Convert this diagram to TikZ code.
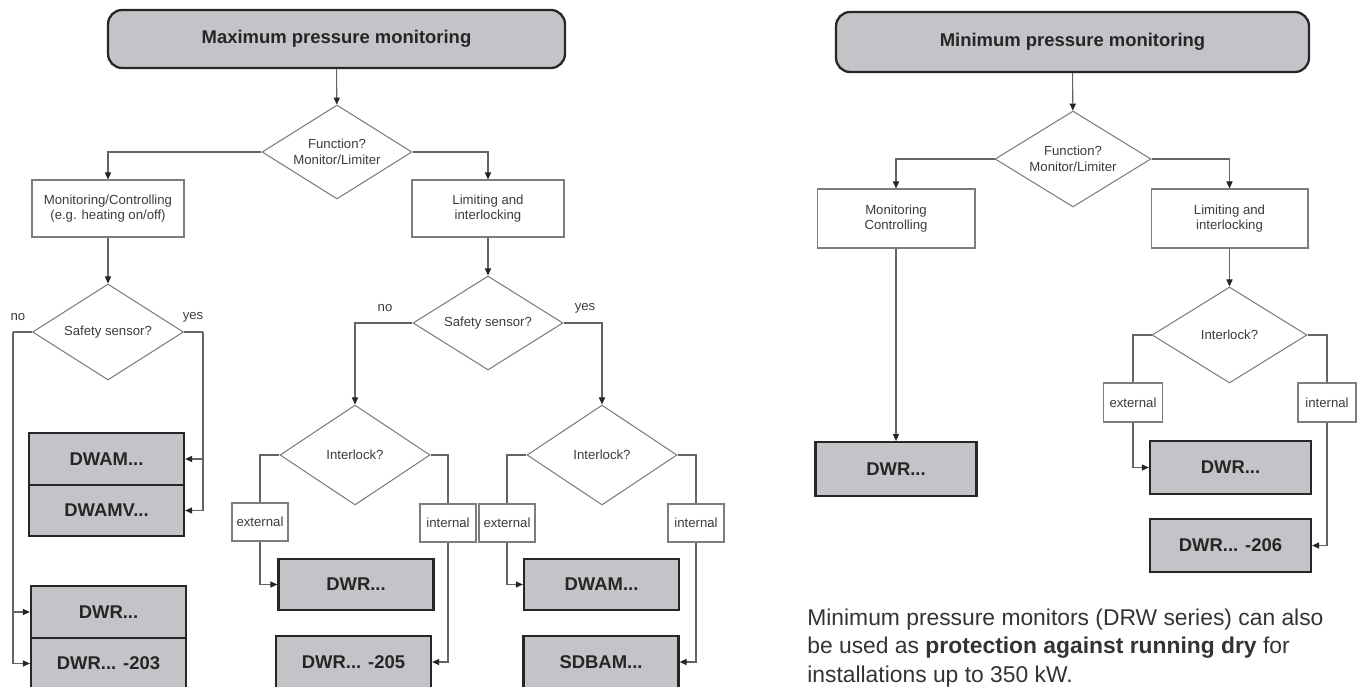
\documentclass[tikz,border=0pt]{standalone}
\usepackage{fontspec}
\setmainfont{Liberation Sans}
\usetikzlibrary{shapes.geometric,arrows.meta}

\definecolor{boxgray}{RGB}{195,196,200}
\definecolor{linegray}{RGB}{100,100,100}
\definecolor{framegray}{RGB}{125,125,125}
\definecolor{textgray}{RGB}{60,60,60}

\begin{document}
\begin{tikzpicture}
		% one unit is one pixel of the layout
		[x=0.02cm, y=-0.02cm,
		title/.style={draw=black!85, line width=1.3pt, fill=boxgray, rounded corners=8pt, font=\fontsize{10.5}{12}\selectfont\bfseries, text=black!85},
		product/.style={draw=black!85, line width=1.3pt, fill=boxgray, font=\fontsize{10.5}{12}\selectfont\bfseries, text=black!85, minimum width=3.1cm, minimum height=1.03cm},
		question/.style={diamond, aspect=1.6, inner sep=0pt, draw=framegray, line width=0.6pt, font=\fontsize{7.5}{9}\selectfont, text=textgray, align=center, minimum width=3cm, minimum height=1.9cm},
		choice/.style={draw=framegray, line width=0.6pt, font=\fontsize{7.5}{9}\selectfont, text=textgray, align=center, minimum width=3.04cm, minimum height=1.14cm},
		tag/.style={draw=framegray, line width=0.6pt, fill=white, font=\fontsize{7.5}{9}\selectfont, text=textgray, minimum width=1.12cm, minimum height=0.76cm, inner sep=1pt},
		answer/.style={font=\fontsize{7.5}{9}\selectfont, text=textgray},
		link/.style={draw=linegray, line width=0.6pt},
		flow/.style={link, -{Triangle[length=4pt, width=3.5pt, color=black!85]}}]
	
		\useasboundingbox (0,0) rectangle (1358,686);
		\clip (0,0) rectangle (1358,686);
	
		% First the maximum pressure chart
		\begin{scope}
			\node[title, minimum width=9.14cm, minimum height=1.16cm] (maxtitle) at (336.5,39) {Maximum pressure monitoring};
			\node[question, minimum height=1.88cm] (maxfunc) at (337,152) {Function?\\Monitor/Limiter};
			\node[choice] (maxmon) at (108,208.5) {Monitoring/Controlling\\(e.g. heating on/off)};
			\node[choice] (maxlim) at (488,208.5) {Limiting and\\interlocking};
			\node[question, minimum width=3.02cm, minimum height=1.92cm] (maxsafeA) at (108,332) {Safety sensor?};
			\node[question, minimum height=1.88cm] (maxsafeB) at (488,323) {Safety sensor?};
			\node[question, minimum height=2cm] (maxilkA) at (355,455) {Interlock?};
			\node[question, minimum height=2cm] (maxilkB) at (602,455) {Interlock?};
			
			\node[product] (dwamA) at (106.5,459) {DWAM...};
			\node[product] (dwamvA) at (106.5,510.5) {DWAMV...};
			\node[product] (dwrA) at (108.5,612) {DWR...};
			\node[product] (dwrcA) at (108.5,663.5) {DWR... -203};
			\node[product] (dwrB) at (356,584.5) {DWR...};
			\node[product] (dwrcB) at (353.5,662) {DWR... -205};
			\node[product] (dwamB) at (601.5,584.5) {DWAM...};
			\node[product] (sdbamB) at (601,662) {SDBAM...};
			
			\node[tag] (extA) at (260,522) {external};
			\node[tag] (intA) at (448,523) {internal};
			\node[tag] (extB) at (507,523) {external};
			\node[tag] (intB) at (696,523) {internal};
			
			\node[answer] (noA) at (18,317) {no};
			\node[answer] (yesA) at (193,317) {yes};
			\node[answer] (noB) at (385,308) {no};
			\node[answer] (yesB) at (585,308) {yes};
			
			\draw[flow] (maxtitle) -- (maxfunc);
			\draw[flow] (maxfunc.west) -| (maxmon.north);
			\draw[flow] (maxfunc.east) -| (maxlim.north);
			\draw[flow] (maxmon) -- (maxsafeA);
			\draw[flow] (maxlim) -- (maxsafeB);
			
			% the two outer lines of the first safety question
			\coordinate (leftA) at (13,332);
			\coordinate (rightA) at (203,332);
			\draw[link] (maxsafeA.west) -- (leftA);
			\draw[flow] (leftA) |- (dwrA.west);
			\draw[flow] (leftA) |- (dwrcA.west);
			\draw[link] (maxsafeA.east) -- (rightA);
			\draw[flow] (rightA) |- (dwamA.east);
			\draw[flow] (rightA) |- (dwamvA.east);
			
			\draw[flow] (maxsafeB.west) -| (maxilkA.north);
			\draw[flow] (maxsafeB.east) -| (maxilkB.north);
			
			% external and internal interlocks
			\draw[link] (maxilkA.west) -| (extA.north);
			\draw[flow] (extA.south) |- (dwrB.west);
			\draw[link] (maxilkA.east) -| (intA.north);
			\draw[flow] (intA.south) |- (dwrcB.east);
			\draw[link] (maxilkB.west) -| (extB.north);
			\draw[flow] (extB.south) |- (dwamB.west);
			\draw[link] (maxilkB.east) -| (intB.north);
			\draw[flow] (intB.south) |- (sdbamB.east);
		\end{scope}
		
		% Second the minimum pressure chart
		\begin{scope}[product/.append style={minimum width=3.22cm, minimum height=1.07cm}]
			\node[title, minimum width=9.46cm, minimum height=1.2cm] (mintitle) at (1072.5,42) {Minimum pressure monitoring};
			\node[question, minimum width=3.12cm, minimum height=1.92cm] (minfunc) at (1073,159) {Function?\\Monitor/Limiter};
			\node[choice, minimum width=3.16cm, minimum height=1.18cm] (minmon) at (896,218.5) {Monitoring\\Controlling};
			\node[choice, minimum width=3.14cm, minimum height=1.18cm] (minlim) at (1229.5,218.5) {Limiting and\\interlocking};
			\node[question, minimum width=3.1cm, minimum height=1.92cm] (minilk) at (1229.5,335) {Interlock?};
			
			\node[product] (dwrC) at (896,469) {DWR...};
			\node[product] (dwrD) at (1230.5,467.5) {DWR...};
			\node[product] (dwrcD) at (1230.5,545.5) {DWR... -206};
			
			\node[tag, minimum width=1.18cm, minimum height=0.78cm] (extC) at (1133,402.5) {external};
			\node[tag, minimum width=1.16cm, minimum height=0.78cm] (intC) at (1327,402.5) {internal};
			
			\draw[flow] (mintitle) -- (minfunc);
			\draw[flow] (minfunc.west) -| (minmon.north);
			\draw[flow] (minfunc.east) -| (minlim.north);
			\draw[flow] (minmon) -- (dwrC);
			\draw[flow] (minlim.south) -- (minilk.north);
			\draw[link] (minilk.west) -| (extC.north);
			\draw[flow] (extC.south) |- (dwrD.west);
			\draw[link] (minilk.east) -| (intC.north);
			\draw[flow] (intC.south) |- (dwrcD.east);
			
			% the note below the chart
			\node[anchor=west, align=left, inner sep=0pt, font=\fontsize{13}{16.2}\selectfont, text=black!80] (note) at (807,648) {Minimum pressure monitors (DRW series) can also\\be used as \textbf{protection against running dry} for\\installations up to 350 kW.};
		\end{scope}
	\end{tikzpicture}
\end{document}
